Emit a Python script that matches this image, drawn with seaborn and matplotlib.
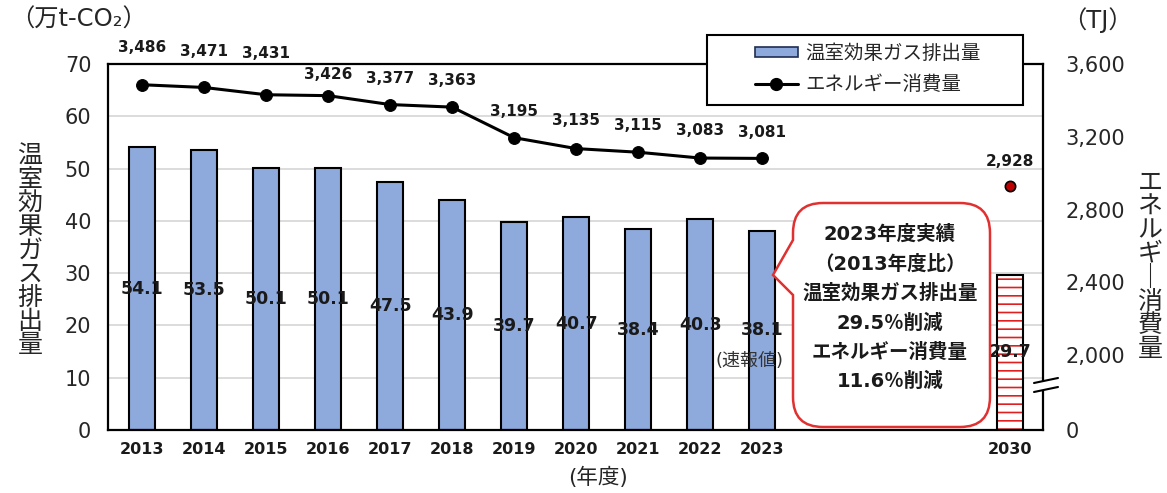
import numpy as np
import pandas as pd
import seaborn as sns
import matplotlib.pyplot as plt
from matplotlib.path import Path
from matplotlib.patches import PathPatch, Rectangle, Patch
from matplotlib.lines import Line2D

# データ
years = ["2013", "2014", "2015", "2016", "2017", "2018", "2019", "2020", "2021", "2022", "2023"]
ghg = [54.1, 53.5, 50.1, 50.1, 47.5, 43.9, 39.7, 40.7, 38.4, 40.3, 38.1]
energy = [3486, 3471, 3431, 3426, 3377, 3363, 3195, 3135, 3115, 3083, 3081]
target_year = "2030"
target_ghg = 29.7
target_energy = 2928
callout_lines = ["2023年度実績", "（2013年度比）", "温室効果ガス排出量", "29.5％削減",
                 "エネルギー消費量", "11.6％削減"]

# 配置（ラベルの上下オフセット, pt）
energy_dy = [27, 26, 30, 15, 19, 19, 19, 20, 19, 20, 19]
target_dy = 18
target_pos = 14

W, H = 1167, 493
def px(x, y):
    return (x / W, 1 - y / H)

sns.set_style("white")
plt.rcParams['font.family'] = ['DejaVu Sans', 'Noto Sans CJK JP']
plt.rcParams['hatch.linewidth'] = 1.2

bar_color = "#8EA9DB"
txt = "#1a1a1a"

fig = plt.figure(figsize=(W / 100, H / 100), dpi=100)
ax = fig.add_axes([108 / W, 63 / H, 935 / W, 366 / H])

df = pd.DataFrame({"pos": np.arange(len(years)), "ghg": ghg, "energy": energy})

sns.barplot(data=df, x="pos", y="ghg", native_scale=True, width=0.42, color=bar_color,
            saturation=1, edgecolor="black", linewidth=1.5, ax=ax, zorder=2)
ax.bar_label(ax.containers[0], fmt="%.1f", label_type="center", fontsize=12.5,
             fontweight="bold", color=txt)

# 2030年目標
ax.bar(target_pos, target_ghg, width=0.42, color="white", edgecolor="#e02020",
       hatch="--", linewidth=0, zorder=2)
tb = ax.bar(target_pos, target_ghg, width=0.42, color="none", edgecolor="black",
            linewidth=1.5, zorder=3)
ax.bar_label(tb, fmt="%.1f", label_type="center", fontsize=12.5, fontweight="bold", color=txt)
ax.annotate("(速報値)", (len(years) - 1, ghg[-1] / 2), xytext=(-9, -22),
            textcoords="offset points", ha="center", va="center", fontsize=13, color="#333333")

ax.set_xlim(-0.55, 14.53)
ax.set_ylim(0, 70)
ax.set_yticks(range(0, 71, 10))
ax.set_xticks(list(range(len(years))) + [target_pos])
ax.set_xticklabels(years + [target_year], fontsize=11.5, fontweight="bold", color=txt)
ax.tick_params(axis="y", labelsize=15, labelcolor="#262626", length=0, pad=12)
ax.tick_params(axis="x", length=0, pad=9)
ax.set_xlabel("")
ax.set_ylabel("")
ax.grid(axis="y", color="#d9d9d9", linewidth=1.3)
ax.grid(axis="x", visible=False)
ax.set_axisbelow(True)
for s in ax.spines.values():
    s.set_visible(True)
    s.set_color("black")
    s.set_linewidth(1.6)

# 右軸（エネルギー）
ax2 = ax.twinx()
sns.lineplot(data=df, x="pos", y="energy", ax=ax2, color="black", linewidth=2.2,
             marker="o", markersize=8.5, markeredgecolor="black")
ax2.scatter([target_pos], [target_energy], s=55, color="#c00000", edgecolor="black",
            linewidth=1.2, zorder=4)
for x, v, dy in zip(df["pos"], energy, energy_dy):
    ax2.annotate(f"{v:,}", (x, v), xytext=(0, dy), textcoords="offset points",
                 ha="center", va="center", fontsize=11, fontweight="bold", color=txt,
                 annotation_clip=False)
ax2.annotate(f"{target_energy:,}", (target_pos, target_energy), xytext=(0, target_dy),
             textcoords="offset points", ha="center", va="center", fontsize=11,
             fontweight="bold", color=txt)
ax2.set_ylim(1588, 3600)
ax2.set_yticks([1588, 2000, 2400, 2800, 3200, 3600])
ax2.set_yticklabels(["0", "2,000", "2,400", "2,800", "3,200", "3,600"])
ax2.tick_params(axis="y", labelsize=15, labelcolor="#262626", length=0, pad=16)
ax2.set_ylabel("")
ax2.grid(False)
for s in ax2.spines.values():
    s.set_visible(False)

# 軸タイトル
fig.text(*px(30, 251), "\n".join("温室効果ガス排出量"), ha="center", va="center",
         fontsize=18, linespacing=0.98, color="#262626")
fig.text(*px(1150, 266), "\n".join("エネルギ｜消費量"), ha="center", va="center",
         fontsize=18, linespacing=0.98, color="#262626")
fig.text(*px(10, 20), "（万t-CO₂）", ha="left", va="center", fontsize=17.5, color="#262626")
fig.text(*px(1062, 20), "（TJ）", ha="left", va="center", fontsize=17.5, color="#262626")
fig.text(*px(598, 477), "(年度)", ha="center", va="center", fontsize=15.5, color="#262626")

# 凡例
frame = Rectangle(px(707, 105), 316 / W, 70 / H, transform=fig.transFigure,
                  facecolor="white", edgecolor="black", linewidth=1.5, zorder=4)
fig.add_artist(frame)
handles = [Patch(facecolor=bar_color, edgecolor="#1f2d50", linewidth=1.2),
           Line2D([], [], color="black", marker="o", linewidth=2.2, markersize=8.5)]
fig.legend(handles, ["温室効果ガス排出量", "エネルギー消費量"], loc="center",
           bbox_to_anchor=px(868, 69), frameon=False, fontsize=14, handlelength=2.2,
           handleheight=0.45, labelspacing=0.65, handletextpad=0.4)

# 吹き出し
r = 30
L, R, T, B = 793, 990, 203, 427
verts = [(L, 295), (L, B - r), (L, B), (L + r, B), (R - r, B), (R, B), (R, B - r),
         (R, T + r), (R, T), (R - r, T), (L + r, T), (L, T), (L, T + r), (L, 240),
         (773, 275), (L, 295)]
codes = [Path.MOVETO, Path.LINETO, Path.CURVE3, Path.CURVE3, Path.LINETO, Path.CURVE3,
         Path.CURVE3, Path.LINETO, Path.CURVE3, Path.CURVE3, Path.LINETO, Path.CURVE3,
         Path.CURVE3, Path.LINETO, Path.LINETO, Path.CLOSEPOLY]
bubble = PathPatch(Path([px(*v) for v in verts], codes), transform=fig.transFigure,
                   facecolor="white", edgecolor="#e03030", linewidth=1.8, zorder=3)
fig.add_artist(bubble)
fig.text(*px(890, 308), "\n".join(callout_lines), ha="center", va="center", fontsize=14,
         fontweight="bold", linespacing=1.67, color=txt, zorder=6)

# 軸の省略記号
fig.add_artist(Rectangle(px(1039, 391), 8 / W, 9 / H, transform=fig.transFigure,
                         facecolor="white", edgecolor="none", zorder=4))
for y0 in (383, 392):
    fig.add_artist(Line2D([1034 / W, 1058 / W], [1 - y0 / H, 1 - (y0 - 5) / H],
                          transform=fig.transFigure, color="black", linewidth=1.5, zorder=5))

fig.savefig("out.png", dpi=100)
